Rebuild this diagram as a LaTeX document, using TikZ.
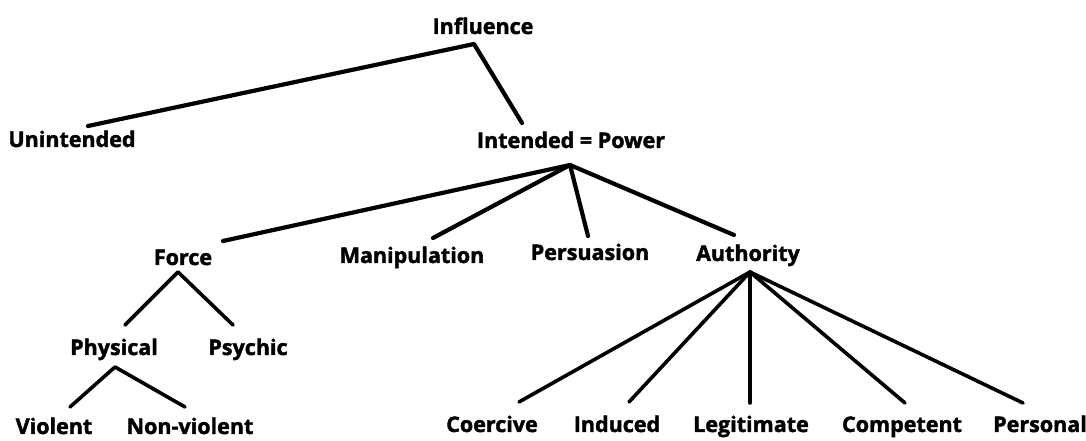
\documentclass[tikz,border=0pt]{standalone}
\usepackage{fontspec}
\setmainfont{Open Sans}[BoldFeatures={FakeBold=1.8}]
\begin{document}
\begin{tikzpicture}[x=1pt,y=1pt,
  term/.style={anchor=base,inner sep=0pt,font=\fontsize{21.5}{21.5}\selectfont\bfseries},
  branch/.style={line width=4.2pt,line cap=round,line join=round},
  twig/.style={line width=3.6pt,line cap=round,line join=round}]
\fill[white] (0,0) rectangle (1086,441);
\useasboundingbox (0,0) rectangle (1086,441);

% labels, placed on their baselines
\node[term] (inf)   at (483,407) {Influence};
\node[term] (unint) at (72,294)  {Unintended};
\node[term] (intd)  at (571,293) {Intended = Power};
\node[term] (force) at (183,176) {Force};
\node[term] (manip) at (412,178) {Manipulation};
\node[term] (pers)  at (590,181) {Persuasion};
\node[term] (auth)  at (748,180) {Authority};
\node[term] (phys)  at (114,86)  {Physical};
\node[term] (psych) at (248,86)  {Psychic};
\node[term] (viol)  at (54,7)    {Violent};
\node[term] (nonv)  at (190,7)   {Non-violent};
\node[term] (coer)  at (492,9)   {Coercive};
\node[term] (indu)  at (617,9)   {Induced};
\node[term] (legi)  at (751,9)   {Legitimate};
\node[term] (comp)  at (902,9)   {Competent};
\node[term] (prsn)  at (1040,9)  {Personal};

% influence splits
\draw[branch] ([shift={(16,21)}]unint.base) -- ([shift={(-9,-10)}]inf.base)
  -- ([shift={(-49,25)}]intd.base);

% kinds of power
\draw[branch] ([shift={(40,24)}]force.base) -- ([shift={(-1,-17)}]intd.base);
\draw[branch] ([shift={(21,25)}]manip.base) -- ([shift={(-1,-17)}]intd.base);
\draw[branch] ([shift={(-2,24)}]pers.base) -- ([shift={(-1,-17)}]intd.base);
\draw[branch] ([shift={(-14,26)}]auth.base) -- ([shift={(-1,-17)}]intd.base);

% kinds of force
\draw[twig] ([shift={(11,30)}]phys.base) -- ([shift={(-5,-7)}]force.base)
  -- ([shift={(-15,30)}]psych.base);
\draw[twig] ([shift={(16,27)}]viol.base) -- ([shift={(1,-12)}]phys.base)
  -- ([shift={(-5,27)}]nonv.base);

% kinds of authority
\foreach \n/\dx/\dy in {coer/27/30, indu/12/30, legi/-1/29, comp/3/29, prsn/-17/29}
  \draw[twig] ([shift={(\dx,\dy)}]\n.base) -- ([shift={(2,-11)}]auth.base);
\end{tikzpicture}
\end{document}
